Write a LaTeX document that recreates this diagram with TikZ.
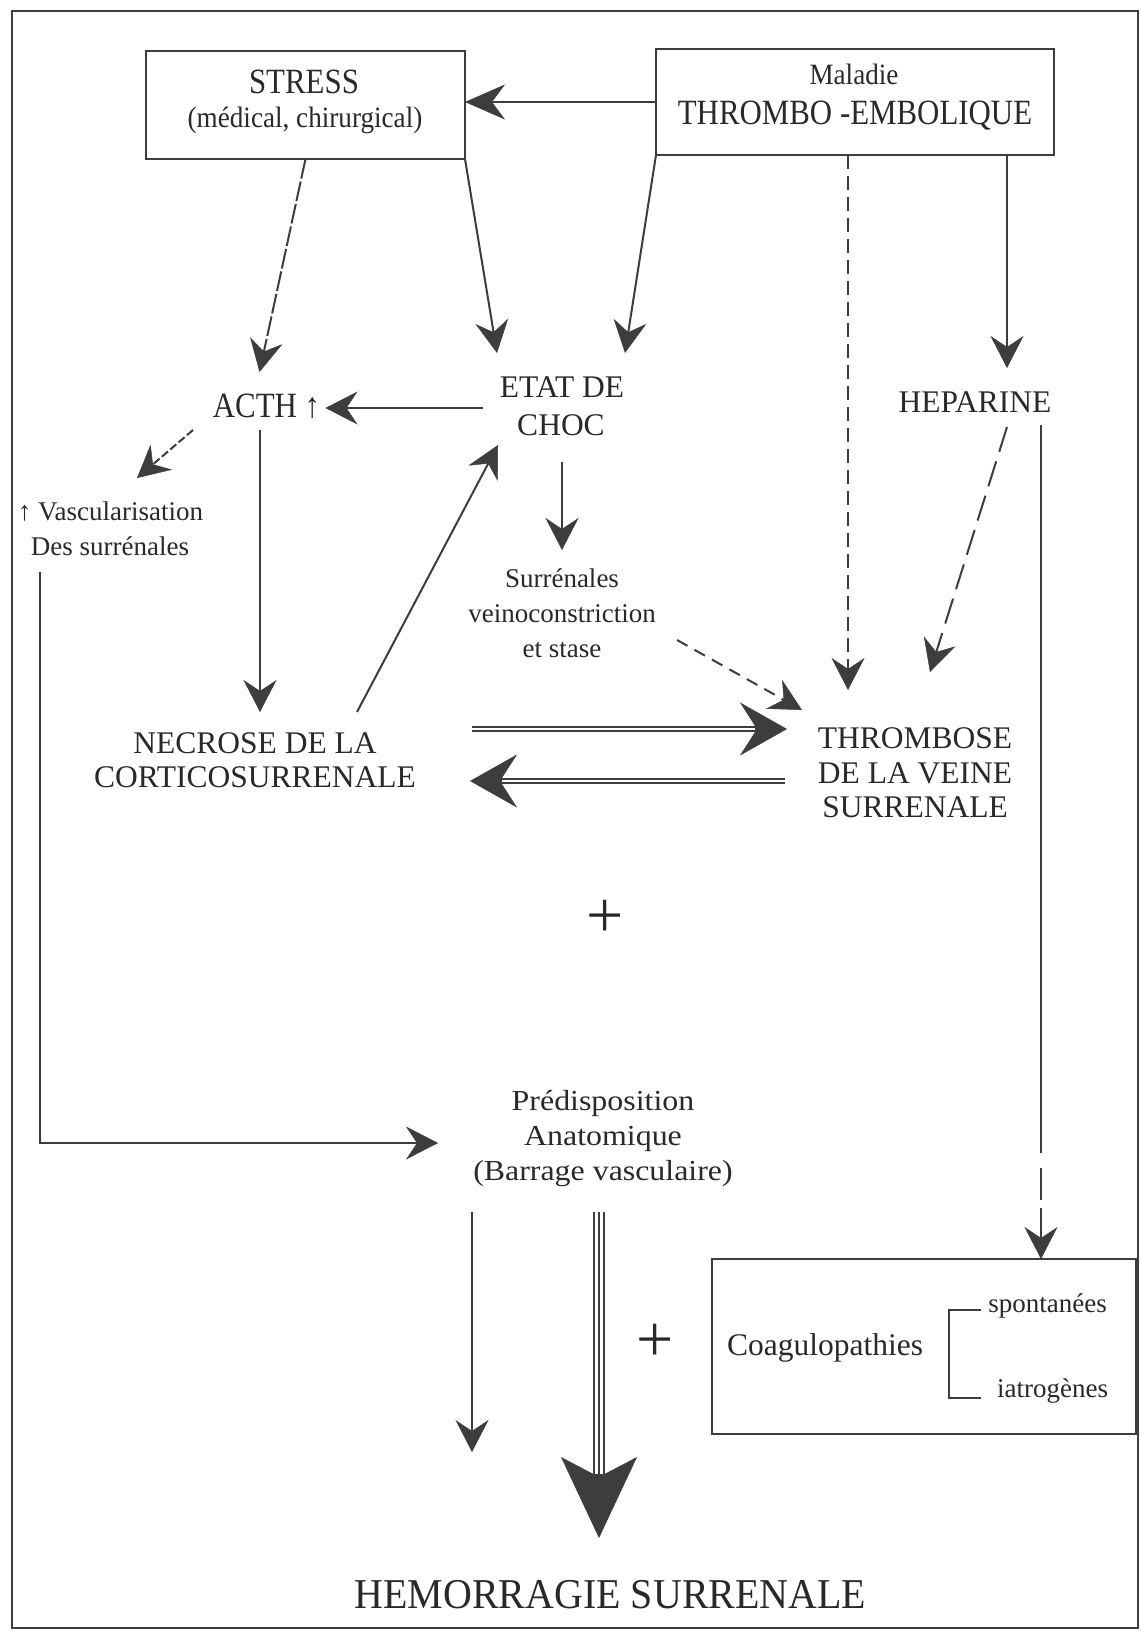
\documentclass[tikz,border=0pt]{standalone}
\usepackage{fontspec}
\setmainfont{Liberation Serif}
\newfontfamily\fcondA{Liberation Serif}[FakeStretch=0.87]
\newfontfamily\fcondB{Liberation Serif}[FakeStretch=0.92]
\newfontfamily\fcondC{Liberation Serif}[FakeStretch=0.94]
\newfontfamily\fwide{Liberation Serif}[FakeStretch=1.1]
\usetikzlibrary{arrows.meta,calc}
\definecolor{ink}{gray}{0.24}
\definecolor{txtc}{gray}{0.16}
\tikzset{
  txt/.style={anchor=base, inner sep=0pt, outer sep=0pt, text=txtc},
  boxnode/.style={draw=ink, line width=2pt, rectangle, inner sep=0pt, outer sep=0pt},
  fBig/.style={font=\fcondA\fontsize{35.5}{40}\selectfont},
  fBoxSub/.style={font=\fcondB\fontsize{29.5}{34}\selectfont},
  fMain/.style={font=\fontsize{31.5}{36}\selectfont},
  fSmall/.style={font=\fontsize{27}{32}\selectfont},
  fPred/.style={font=\fwide\fontsize{29}{34}\selectfont},
  fTitle/.style={font=\fcondC\fontsize{42.5}{48}\selectfont},
  fPlus/.style={font=\fontsize{66}{70}\selectfont},
  arr/.style={draw=ink, line width=2pt, -{Stealth[length=32pt,width=33pt,inset=11pt,line width=0.5pt]}},
  bigarr/.style={draw=ink, line width=6.5pt, -{Stealth[length=47pt,width=53pt,inset=17pt,line width=0.5pt]}},
  bigwhite/.style={draw=white, line width=2.5pt, shorten >=32pt},
  triarr/.style={draw=ink, line width=12pt, -{Stealth[length=81pt,width=76pt,inset=20pt,line width=0.5pt]}},
  triwhite/.style={draw=white, line width=8pt, shorten >=64pt},
  trimid/.style={draw=ink, line width=2pt, shorten >=60pt},
}
\begin{document}
\begin{tikzpicture}[x=1pt,y=-1pt]
\useasboundingbox (0,0) rectangle (1140,1637);
\fill[white] (0,0) rectangle (1140,1637);
\draw[ink, line width=2.5pt] (12,11) rectangle (1138,1628);

% boxes and texts
\node[boxnode, minimum width=319pt, minimum height=108pt] (stress) at (305.5,105) {};
\node[txt, fBig] (stressA) at (304,93.5) {STRESS};
\node[txt, fBoxSub] (stressB) at (305,128) {(médical, chirurgical)};

\node[boxnode, minimum width=398pt, minimum height=106pt] (maladie) at (855,102) {};
\node[txt, fBoxSub] (malA) at (854,85) {Maladie};
\node[txt, fBig] (malB) at (855,125) {THROMBO -EMBOLIQUE};

\node[txt, fBig] (acth) at (266.5,417) {ACTH ↑};
\node[txt, fMain] (etat1) at (562,397) {ETAT DE};
\node[txt, fMain] (etat2) at (561,435) {CHOC};
\node[txt, fMain] (hep) at (975,412) {HEPARINE};
\node[txt, fSmall] (vasc1) at (110.5,520) {↑ Vascularisation};
\node[txt, fSmall] (vasc2) at (110,555) {Des surrénales};
\node[txt, fSmall] (sur1) at (562,587) {Surrénales};
\node[txt, fSmall] (sur2) at (562,622) {veinoconstriction};
\node[txt, fSmall] (sur3) at (562,657) {et stase};
\node[txt, fMain] (thr1) at (915,748) {THROMBOSE};
\node[txt, fMain] (thr2) at (915,783) {DE LA VEINE};
\node[txt, fMain] (thr3) at (915,817) {SURRENALE};
\node[txt, fMain] (nec1) at (255,753) {NECROSE DE LA};
\node[txt, fMain] (nec2) at (255,787) {CORTICOSURRENALE};
\node[txt, fPlus, anchor=center] (plusA) at (605,919) {+};
\node[txt, fPred] (pred1) at (603,1110) {Prédisposition};
\node[txt, fPred] (pred2) at (603,1145) {Anatomique};
\node[txt, fPred] (pred3) at (603,1180) {(Barrage vasculaire)};
\node[boxnode, minimum width=424pt, minimum height=175pt] (coag) at (924,1346.5) {};
\node[txt, fMain] (coagt) at (825,1355) {Coagulopathies};
\node[txt, fSmall] (spon) at (1047.5,1312) {spontanées};
\node[txt, fSmall] (iatro) at (1052.5,1397) {iatrogènes};
\node[txt, fPlus, anchor=center] (plusB) at (655,1343) {+};
\node[txt, fTitle] (hemo) at (610.5,1608) {HEMORRAGIE SURRENALE};

% bracket
\draw[ink, line width=2.5pt] ($(coag.north west)+(269,51)$) -- ($(coag.north west)+(237,51)$) -- ($(coag.north west)+(237,139)$) -- ($(coag.north west)+(269,139)$);

% connectors
\draw[draw=ink, line width=2.5pt, -{Stealth[length=40pt,width=35pt,inset=13pt,line width=0.5pt]}] (maladie.west) -- (maladie.west -| stress.east);
\draw[arr, dash pattern=on 20pt off 3pt] (stress.south) -- ($(acth.base)+(-7,-45)$);
\draw[arr] (stress.south east) -- ($(etat1.base)+(-65,-44)$);
\draw[arr] (maladie.south west) -- ($(etat1.base)+(63,-44)$);
\draw[arr, dash pattern=on 14pt off 7pt] ($(maladie.south)+(-7,0)$) -- ($(thr1.base)+(-67,-58)$);
\draw[arr] ($(maladie.south east)+(-47,0)$) -- ($(hep.base)+(32,-44)$);
\draw[arr, line width=2.5pt] ($(etat1.base)+(-79,11)$) -- ($(acth.base)+(59,-9)$);
\draw[arr, dash pattern=on 8pt off 3pt] ($(acth.base)+(-73.5,13)$) -- ($(vasc1.base)+(26.5,-42)$);
\draw[arr] ($(acth.base)+(-6.5,13)$) -- ($(nec1.base)+(5,-41)$);
\draw[arr] ($(nec1.base)+(102,-41)$) -- ($(etat2.base)+(-63,10)$);
\draw[arr] ($(etat2.base)+(1,27)$) -- ($(sur1.base)+(0,-37)$);
\draw[arr, dash pattern=on 12pt off 8pt] ($(sur3.base)+(115,-17)$) -- ($(thr1.base)+(-113,-38)$);
\draw[arr, dash pattern=on 26pt off 10pt] ($(hep.base)+(32,15)$) -- ($(thr1.base)+(15,-76)$);
% double arrows
\draw[bigarr] ($(nec1.base)+(217,-24)$) -- ($(thr1.base)+(-128,-19)$);
\draw[bigwhite] ($(nec1.base)+(217,-24)$) -- ($(thr1.base)+(-128,-19)$);
\draw[bigarr] ($(thr2.base)+(-130,-2)$) -- ($(nec2.base)+(215,-6)$);
\draw[bigwhite] ($(thr2.base)+(-130,-2)$) -- ($(nec2.base)+(215,-6)$);
% heparine to coagulopathies
\draw[arr, dash pattern=on 728pt off 15pt on 32pt off 8pt on 400pt] ($(hep.base)+(66,13)$) -- ($(coag.north west)+(329,0)$);
% vascularisation to predisposition
\draw[arr] ($(vasc2.base)+(-70,17)$) |- ($(pred2.base)+(-165,-2)$);
% predisposition to hemorragie
\draw[arr] ($(pred3.base)+(-131,32)$) -- ($(hemo.base)+(-138.5,-156)$);
\draw[triarr] ($(pred3.base)+(-4,32)$) -- ($(hemo.base)+(-11.5,-70)$);
\draw[triwhite] ($(pred3.base)+(-4,32)$) -- ($(hemo.base)+(-11.5,-70)$);
\draw[trimid] ($(pred3.base)+(-4,32)$) -- ($(hemo.base)+(-11.5,-70)$);
\end{tikzpicture}
\end{document}
